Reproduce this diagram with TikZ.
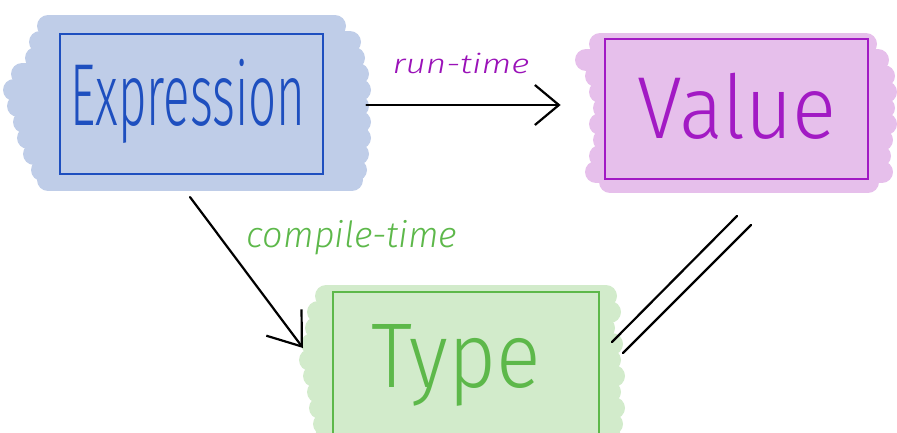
\documentclass[tikz,border=0pt]{standalone}
\usepackage{fontspec}
\setmainfont{Fira Sans Light}
\usetikzlibrary{arrows.meta}
\definecolor{bluefill}{HTML}{BFCDE8}
\definecolor{blueline}{HTML}{1E4FBF}
\definecolor{purplefill}{HTML}{E6BFEB}
\definecolor{purpleline}{HTML}{A21AC4}
\definecolor{greenfill}{HTML}{D2EBCB}
\definecolor{greenline}{HTML}{5DB84A}
\definecolor{runcol}{HTML}{9A12B8}
\definecolor{compcol}{HTML}{5DB84A}
\tikzset{
  brush/.style={line width=22pt, line cap=round},
  boxnode/.style={draw, line width=2.8pt, rectangle, inner sep=0pt},
  bigtext/.style={anchor=base, inner sep=0pt, font=\fontsize{88}{88}\selectfont},
  labeltext/.style={anchor=base, inner sep=0pt},
  conn/.style={line width=2.2pt, black, line cap=round},
}
\begin{document}
\begin{tikzpicture}[x=1pt,y=-1pt]
\useasboundingbox (0,0) rectangle (897,432);
\clip (0,0) rectangle (897,432);
% Expression blob
\fill[bluefill] (48,26) rectangle (335,180);
\foreach \y/\a/\b in {26/48/335, 42/40/350, 58/36/354, 74/22/358, 90/14/360, 106/18/358, 122/24/360, 138/28/360, 154/34/358, 170/42/356, 180/48/352}
  \draw[brush, bluefill] (\a,\y) -- (\b,\y);
% Value blob
\fill[purplefill] (610,44) rectangle (866,182);
\foreach \y/\a/\b in {44/600/866, 60/586/878, 76/596/884, 92/600/886, 108/604/884, 124/600/886, 140/604/882, 156/600/880, 172/596/882, 182/610/868}
  \draw[brush, purplefill] (\a,\y) -- (\b,\y);
% Type blob
\fill[greenfill] (326,296) rectangle (604,440);
\foreach \y/\a/\b in {296/326/606, 312/318/610, 328/316/604, 344/312/612, 360/310/610, 376/314/614, 392/318/610, 408/320/614, 424/324/612, 440/324/612}
  \draw[brush, greenfill] (\a,\y) -- (\b,\y);

% boxes
\node[boxnode, blueline, minimum width=263pt, minimum height=140pt] (expr) at (191.5,104) {};
\node[boxnode, purpleline, minimum width=263pt, minimum height=140pt] (val) at (736.5,109) {};
\node[boxnode, greenline, minimum width=266pt, minimum height=143pt] (type) at (466,363.5) {};

% texts
\node[bigtext, blueline] (exprtext) at (188,125) {\scalebox{0.56}[1]{Expression}};
\node[bigtext, purpleline] (valtext) at (737,138) {\scalebox{0.93}[1]{Value}};
\node[bigtext, greenline, font=\fontsize{92}{92}\selectfont] (typetext) at (456,387) {\scalebox{0.9}[1]{Type}};

% connectors
\coordinate (rtstart) at ([xshift=42pt]expr.east);
\coordinate (rtend) at ([xshift=-43pt]val.west);
\draw[conn, -{Straight Barb[length=24pt,width=40pt,line width=2.2pt]}] (rtstart |- 0,105) -- (rtend |- 0,105);
\node[labeltext, runcol, font=\itshape\fontsize{27}{27}\selectfont] (rtlabel) at (461,73) {\scalebox{1.3}[1]{run-time}};

\coordinate (ctstart) at (190,197);
\coordinate (ctend) at (303,348);
\draw[conn, -{Straight Barb[length=30pt,width=44pt,line width=2.2pt]}] (ctstart) -- (ctend);
\node[labeltext, compcol, font=\itshape\fontsize{36}{36}\selectfont] (ctlabel) at (352,247) {compile-time};

% equality
\coordinate (eqa1) at (737,216);
\coordinate (eqa2) at (612,342);
\coordinate (eqb1) at (751,225);
\coordinate (eqb2) at (623,353);
\draw[conn] (eqa1) -- (eqa2);
\draw[conn] (eqb1) -- (eqb2);
\end{tikzpicture}
\end{document}
